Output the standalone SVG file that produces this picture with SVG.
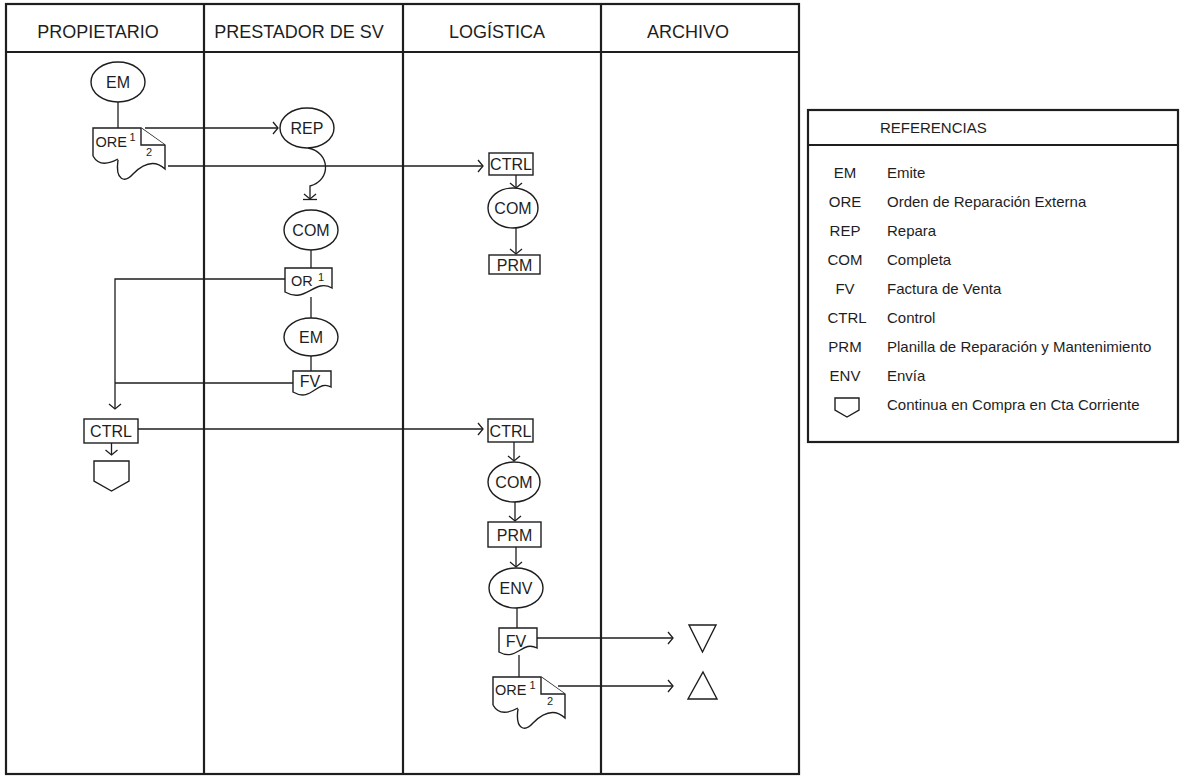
<svg xmlns="http://www.w3.org/2000/svg" xmlns:xlink="http://www.w3.org/1999/xlink" width="1185" height="776" viewBox="0 0 1185 776">
<style>
text{font-family:"Liberation Sans",Arial,sans-serif;fill:#1e1e1e}
.hd{font-size:18px;text-anchor:middle}
.nt{font-size:16px;text-anchor:middle}
.st{font-size:14.5px}
.sup{font-size:11px}
.rf{font-size:15px}
.ra{font-size:15px;text-anchor:middle}
.shape{fill:#fff;stroke:#1e1e1e;stroke-width:1.4}
.frame{fill:none;stroke:#1e1e1e;stroke-width:2.2}
.con{fill:none;stroke:#1e1e1e;stroke-width:1.3}
.arr{marker-end:url(#arr)}
</style>
<defs>
<marker id="arr" markerUnits="userSpaceOnUse" markerWidth="14" markerHeight="14" refX="7" refY="7" orient="auto" viewBox="0 0 14 14">
<path d="M2,1 L7,7 L2,13" fill="none" stroke="#1e1e1e" stroke-width="1.3"/>
</marker>
<g id="oreShape">
<path class="shape" d="M0,28 V0 H48 L72,17 V41 C60,30 48,38 40,46 C32,55 22,53 25,32"/>
<path class="shape" fill="none" d="M0,28 C5,37 14,37 25,31"/>
<path class="shape" fill="none" d="M48,0 V17 H72"/>
</g>
</defs>
<rect width="1185" height="776" fill="#fff"/>

<g id="lanes">
<rect class="frame" x="6" y="4" width="793" height="770"/>
<line class="frame" x1="6" y1="52" x2="799" y2="52"/>
<line class="frame" x1="204" y1="4" x2="204" y2="774"/>
<line class="frame" x1="403" y1="4" x2="403" y2="774"/>
<line class="frame" x1="601" y1="4" x2="601" y2="774"/>
<text class="hd" x="98" y="38">PROPIETARIO</text>
<text class="hd" x="299" y="38">PRESTADOR DE SV</text>
<text class="hd" x="497" y="38">LOGÍSTICA</text>
<text class="hd" x="688" y="38">ARCHIVO</text>
</g>

<g id="connectors">
<path class="con" d="M118,102 V128"/>
<path class="con arr" d="M145,128 H278"/>
<path class="con arr" d="M168,166 H483"/>
<path class="con arr" d="M308,148 C330,152 332,180 310,186 V199"/>
<path class="con" d="M303,199.5 H317"/>
<path class="con" d="M311,250 V268"/>
<path class="con" d="M311,297 V318"/>
<path class="con" d="M311,356 V371"/>
<path class="con arr" d="M285,279 H115 V409"/>
<path class="con" d="M293,383 H115"/>
<path class="con arr" d="M111.5,443 V455"/>
<path class="con arr" d="M138,429 H483"/>
<path class="con arr" d="M516,175 V188"/>
<path class="con arr" d="M516,228 V254"/>
<path class="con arr" d="M514,442 V461"/>
<path class="con arr" d="M515,502 V521"/>
<path class="con arr" d="M516,547 V567"/>
<path class="con" d="M517,608 V628"/>
<path class="con" d="M519,655 V677"/>
<path class="con arr" d="M537,638 H673"/>
<path class="con arr" d="M558,686 H673"/>
</g>

<g id="n-em1"><ellipse class="shape" cx="118" cy="82" rx="27" ry="20"/><text class="nt" x="118" y="88">EM</text></g>
<g id="n-ore1"><use xlink:href="#oreShape" href="#oreShape" transform="translate(93,128)"/><text class="st" x="95.5" y="147">ORE</text><text class="sup" x="129.5" y="141">1</text><text class="sup" x="146" y="156">2</text></g>
<g id="n-rep"><ellipse class="shape" cx="307" cy="128" rx="27" ry="20"/><text class="nt" x="307" y="134">REP</text></g>
<g id="n-com1"><ellipse class="shape" cx="311" cy="230" rx="27" ry="20"/><text class="nt" x="311" y="236">COM</text></g>
<g id="n-or"><path class="shape" d="M285,268 H332 V288 C314,278 306,304 285,292 Z"/><text class="st" x="291" y="286">OR</text><text class="sup" x="318" y="281">1</text></g>
<g id="n-em2"><ellipse class="shape" cx="311" cy="337" rx="27" ry="19"/><text class="nt" x="311" y="343">EM</text></g>
<g id="n-fv1"><path class="shape" d="M293,371 H331 V387 C317,379 312,403 293,392 Z"/><text class="nt" x="310" y="387">FV</text></g>
<g id="n-ctrl1"><rect class="shape" x="84" y="419" width="54" height="24"/><text class="nt" x="111" y="437">CTRL</text></g>
<g id="n-cont"><path class="shape" d="M94,461 H129 V481 L111.5,491 L94,481 Z"/></g>
<g id="n-ctrl2"><rect class="shape" x="489" y="153" width="44" height="22"/><text class="nt" x="511" y="170">CTRL</text></g>
<g id="n-com2"><ellipse class="shape" cx="513" cy="208" rx="25" ry="20"/><text class="nt" x="513" y="214">COM</text></g>
<g id="n-prm1"><rect class="shape" x="489" y="255" width="51" height="19"/><text class="nt" x="514.5" y="270.5">PRM</text></g>
<g id="n-ctrl3"><rect class="shape" x="488" y="419" width="45" height="23"/><text class="nt" x="510.5" y="436.5">CTRL</text></g>
<g id="n-com3"><ellipse class="shape" cx="514" cy="482" rx="26" ry="20"/><text class="nt" x="514" y="488">COM</text></g>
<g id="n-prm2"><rect class="shape" x="488" y="522" width="53" height="25"/><text class="nt" x="514.5" y="540.5">PRM</text></g>
<g id="n-env"><ellipse class="shape" cx="516" cy="588" rx="27" ry="20"/><text class="nt" x="516" y="594">ENV</text></g>
<g id="n-fv2"><path class="shape" d="M499,628 H537 V648 C522,640 517,662 499,652 Z"/><text class="nt" x="516" y="647">FV</text></g>
<g id="n-ore2"><use xlink:href="#oreShape" href="#oreShape" transform="translate(493,677)"/><text class="st" x="495" y="695">ORE</text><text class="sup" x="529.5" y="689">1</text><text class="sup" x="547" y="705">2</text></g>
<g id="n-arch1"><polygon class="shape" points="689,625 716,625 702.5,652"/></g>
<g id="n-arch2"><polygon class="shape" points="703,672 717,699 688,699"/></g>

<g id="referencias">
<rect class="frame" x="808" y="110" width="370" height="332"/>
<line class="frame" x1="808" y1="145" x2="1178" y2="145"/>
<text class="rf" x="880" y="133">REFERENCIAS</text>
<text class="ra" x="845" y="177.5">EM</text><text class="rf" x="887" y="177.5">Emite</text>
<text class="ra" x="845" y="206.5">ORE</text><text class="rf" x="887" y="206.5">Orden de Reparación Externa</text>
<text class="ra" x="845" y="235.5">REP</text><text class="rf" x="887" y="235.5">Repara</text>
<text class="ra" x="845" y="264.5">COM</text><text class="rf" x="887" y="264.5">Completa</text>
<text class="ra" x="845" y="293.5">FV</text><text class="rf" x="887" y="293.5">Factura de Venta</text>
<text class="ra" x="847" y="322.5">CTRL</text><text class="rf" x="887" y="322.5">Control</text>
<text class="ra" x="845" y="351.5">PRM</text><text class="rf" x="887" y="351.5">Planilla de Reparación y Mantenimiento</text>
<text class="ra" x="845" y="380.5">ENV</text><text class="rf" x="887" y="380.5">Envía</text>
<path class="shape" d="M835,398 H859 V410 L847,417 L835,410 Z"/><text class="rf" x="887" y="409.5">Continua en Compra en Cta Corriente</text>
</g>
</svg>
